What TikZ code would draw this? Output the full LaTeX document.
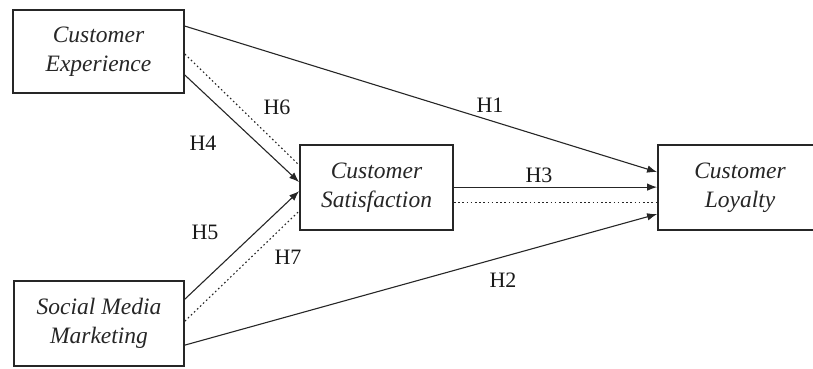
\documentclass[tikz,border=0pt]{standalone}
\usepackage{fontspec}
\setmainfont{Liberation Serif}
\usetikzlibrary{arrows.meta}
\tikzset{
  construct/.style={draw=black!85, line width=1.8pt, inner sep=0pt, align=center,
    font=\fontsize{23.5}{29}\selectfont\itshape, text=black!85},
  hyp/.style={font=\fontsize{22}{26}\selectfont, text=black!90, inner sep=0pt},
  path/.style={draw=black!85, line width=1.1pt, -{Latex[length=10pt,width=7.5pt]}},
  mediated/.style={draw=black!85, line width=1.1pt, dash pattern=on 1.6pt off 2.6pt},
}
\begin{document}
\begin{tikzpicture}[x=1pt,y=-1pt]
\useasboundingbox (0,0) rectangle (813,369);
% constructs
\node[construct, minimum width=171pt, minimum height=83pt] (ce) at (98.5,51.5) {Customer\\Experience};
\node[construct, minimum width=153pt, minimum height=85pt] (cs) at (376.5,187.5) {Customer\\Satisfaction};
\node[construct, minimum width=164pt, minimum height=85pt] (cl) at (740,187.5) {Customer\\Loyalty};
\node[construct, minimum width=170pt, minimum height=85pt] (smm) at (99,323.5) {Social Media\\Marketing};
% direct paths
\draw[path] ([yshift=-17pt]ce.north east) -- ([yshift=-28pt]cl.north west);
\draw[path] ([yshift=-66pt]ce.north east) -- ([yshift=-38pt]cs.north west);
\draw[path] ([yshift=-19pt]smm.north east) -- ([yshift=-47pt]cs.north west);
\draw[path] ([yshift=-43pt]cs.north east) -- ([yshift=-43pt]cl.north west);
\draw[path] ([yshift=-65pt]smm.north east) -- ([yshift=-70pt]cl.north west);
% mediated paths
\draw[mediated] ([yshift=-45pt]ce.north east) -- ([yshift=-21pt]cs.north west);
\draw[mediated] ([yshift=-41pt]smm.north east) -- ([yshift=-67pt]cs.north west);
\draw[mediated] ([yshift=-58pt]cs.north east) -- ([yshift=-58pt]cl.north west);
% hypothesis labels
\node[hyp] (h1) at (490,105) {H1};
\node[hyp] (h2) at (503,280) {H2};
\node[hyp] (h3) at (539,175) {H3};
\node[hyp] (h4) at (203,143) {H4};
\node[hyp] (h5) at (205,232) {H5};
\node[hyp] (h6) at (277,107) {H6};
\node[hyp] (h7) at (288,257) {H7};
\end{tikzpicture}
\end{document}
